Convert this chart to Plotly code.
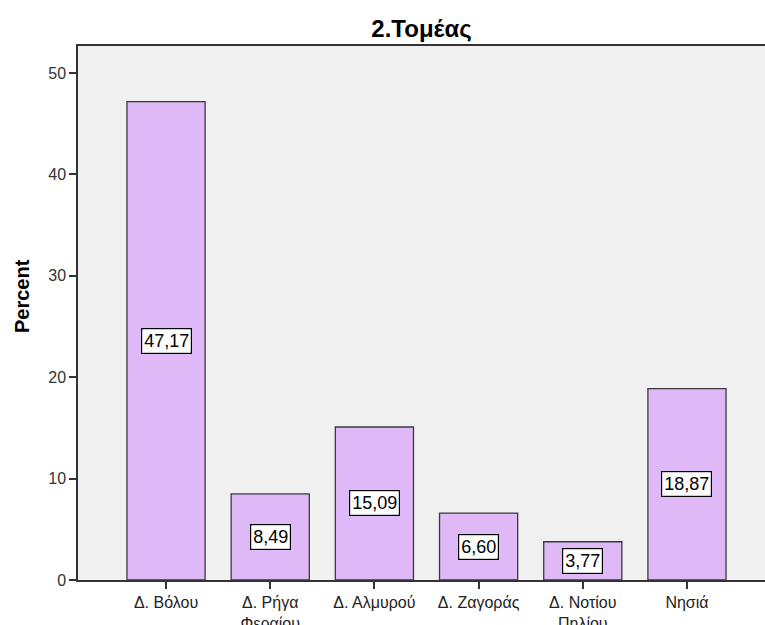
import plotly.graph_objects as go

categories = ["Δ. Βόλου", "Δ. Ρήγα<br>Φεραίου", "Δ. Αλμυρού", "Δ. Ζαγοράς", "Δ. Νοτίου<br>Πηλίου", "Νησιά"]
percent = [47.17, 8.49, 15.09, 6.60, 3.77, 18.87]
value_labels = ["47,17", "8,49", "15,09", "6,60", "3,77", "18,87"]
y_ticks = [0, 10, 20, 30, 40, 50]

FONT = "Liberation Sans, Arial, sans-serif"

fig = go.Figure()
fig.add_trace(go.Bar(
    x=list(range(len(categories))),
    y=percent,
    width=0.75,
    marker=dict(color="#DFB9F7", line=dict(color="#3a3a3a", width=1.3)),
    hoverinfo="skip",
))

for i, (v, lab) in enumerate(zip(percent, value_labels)):
    fig.add_annotation(
        x=i, y=v / 2, text=lab, showarrow=False,
        font=dict(family=FONT, size=18, color="black"),
        bgcolor="white", bordercolor="black", borderwidth=1.2, borderpad=2,
    )

# y-axis title
fig.add_annotation(
    xref="paper", yref="paper", x=(22 - 78) / 687, y=(580 - 296) / 534,
    xanchor="center", yanchor="middle", textangle=-90, showarrow=False,
    text="<b>Percent</b>", font=dict(family=FONT, size=20, color="black"),
)

fig.update_layout(
    width=765, height=625,
    margin=dict(l=78, r=0, t=46, b=45),
    paper_bgcolor="white",
    plot_bgcolor="#F0F0F0",
    showlegend=False,
    title=dict(text="<b>2.Τομέας</b>", x=0.5, xref="paper", xanchor="center",
               y=1 - 29 / 625, yanchor="middle",
               font=dict(family=FONT, size=24, color="black")),
    font=dict(family=FONT),
)

fig.update_xaxes(
    range=[-0.845, 5.749],
    tickmode="array", tickvals=list(range(len(categories))), ticktext=categories,
    ticks="outside", ticklen=7, tickcolor="#333", tickwidth=1.5,
    showline=True, linecolor="#333", linewidth=1.5, mirror=True,
    showgrid=False, zeroline=False, automargin=False,
    tickfont=dict(family=FONT, size=16, color="#222"),
)
fig.update_yaxes(
    range=[0, 52.66],
    tickmode="array", tickvals=y_ticks, ticktext=[str(t) for t in y_ticks],
    ticks="outside", ticklen=7, tickcolor="#333", tickwidth=1.5,
    showline=True, linecolor="#333", linewidth=1.5,
    showgrid=False, zeroline=False, automargin=False,
    tickfont=dict(family=FONT, size=16, color="#333"),
)

fig.write_html("out.html", config={"displayModeBar": False},
               post_script="document.body.style.margin='0';document.body.style.overflow='hidden';")
